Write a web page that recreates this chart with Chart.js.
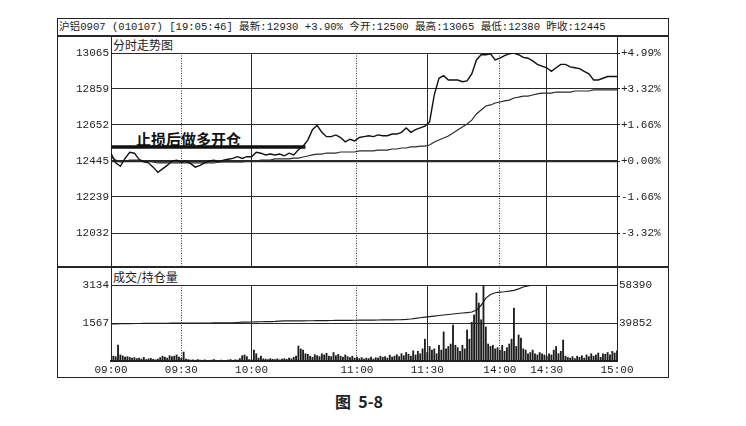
<!DOCTYPE html>
<html>
<head>
<meta charset="utf-8">
<script src="https://cdn.jsdelivr.net/npm/chart.js@4.4.0/dist/chart.umd.min.js"></script>
<style>
html,body{margin:0;padding:0;background:#fff;}
body{width:746px;height:426px;position:relative;overflow:hidden;color:#1c1c1c;font-family:"Liberation Mono","Noto Sans CJK SC",monospace;}
.ab{position:absolute;white-space:nowrap;}
.ln{position:absolute;background:#262626;}
canvas{position:absolute;}
</style>
</head>
<body>
<div class="ab" style="left:57px;top:18px;width:612px;height:360px;border:1.5px solid #222;box-sizing:border-box;"></div>
<div class="ln" style="left:57px;top:35px;width:612px;height:1.5px;"></div>
<div class="ln" style="left:110.5px;top:36px;width:1px;height:325px;"></div>
<div class="ln" style="left:616.5px;top:36px;width:1px;height:325px;"></div>
<div class="ln" style="left:57px;top:266px;width:612px;height:2px;"></div>

<div class="ab" id="hdr" style="left:59px;top:19px;height:16px;line-height:16px;font-size:10.6px;"></div>
<div class="ab" id="t1" style="left:113px;top:37px;font-size:12px;line-height:15px;font-family:'Noto Sans CJK SC';"></div>
<div class="ab" id="t2" style="left:113px;top:269px;font-size:12px;line-height:15px;font-family:'Noto Sans CJK SC';"></div>
<div class="ab" id="note" style="left:136px;top:129px;font-size:15px;line-height:19px;font-weight:bold;font-family:'Noto Sans CJK SC';color:#111;"></div>
<div class="ab" id="cap" style="left:335px;top:391px;font-size:16px;line-height:20px;font-weight:bold;font-family:'Noto Sans CJK SC';color:#222;white-space:pre;"></div>

<canvas id="top" width="612" height="222" style="left:57px;top:45px;width:612px;height:222px;"></canvas>
<canvas id="bot" width="612" height="101" style="left:57px;top:277px;width:612px;height:101px;"></canvas>

<script>
// ---------- text ----------
const headerText = "沪铝0907 (010107) [19:05:46] 最新:12930 +3.90% 今开:12500 最高:13065 最低:12380 昨收:12445";
const panelTitle1 = "分时走势图";
const panelTitle2 = "成交/持仓量";
const noteText = "止损后做多开仓";
const captionText = "图  5-8";

// ---------- axes ----------
const timeTicks  = [0, 30, 60, 105, 135, 166, 186, 216];
const timeLabels = ['09:00','09:30','10:00','11:00','11:30','14:00','14:30','15:00'];
const timeSolid  = [true, false, true, false, true, false, true, true];
const priceTicks = [12032, 12239, 12445, 12652, 12859, 13065];
const pctLabels  = ['-3.32%','-1.66%','+0.00%','+1.66%','+3.32%','+4.99%'];
const prevClose  = 12445;
const priceMin   = 11837;
const volTicks   = [1567, 3134];
const oiTicks    = [39852, 58390];

// ---------- series (price & avg every 2 minutes) ----------
const priceVals = [
12490,12435,12415,12460,12495,12490,12455,12440,12435,12410,
12380,12400,12420,12445,12450,12440,12445,12430,12410,12420,
12435,12445,12450,12440,12450,12455,12460,12470,12460,12470,
12470,12495,12490,12480,12485,12480,12485,12475,12490,12480,
12510,12530,12565,12625,12650,12610,12585,12585,12595,12580,
12555,12570,12560,12580,12585,12590,12585,12595,12590,12590,
12600,12600,12610,12635,12610,12625,12635,12645,12670,12825,
12920,12935,12910,12910,12910,12900,12905,12945,13025,13055,
13055,13060,13025,13035,13050,13060,13065,13055,13040,13035,
13020,13000,12990,12980,12960,12980,13000,13000,12985,12980,
12975,12960,12945,12910,12910,12920,12930,12930,12930];

const avgVals = [
12468,12451,12440,12445,12451,12451,12451,12445,12445,12440,
12434,12434,12434,12434,12434,12434,12434,12434,12434,12434,
12434,12434,12434,12440,12440,12440,12440,12440,12440,12445,
12445,12445,12451,12451,12451,12457,12457,12457,12457,12462,
12462,12468,12474,12480,12485,12485,12491,12491,12491,12497,
12497,12497,12497,12503,12503,12503,12503,12508,12508,12508,
12514,12514,12520,12520,12526,12526,12531,12531,12537,12554,
12566,12577,12589,12606,12623,12640,12658,12680,12715,12738,
12761,12767,12778,12784,12790,12795,12807,12812,12818,12818,
12824,12830,12835,12835,12835,12841,12841,12841,12841,12847,
12847,12847,12847,12853,12853,12853,12853,12853,12853];

// note line: level of the marked position and its end (minute index)
const noteLevel = 12525;
const noteSpan  = [0, 83];

// ---------- volume (per minute) & open interest (every 2 minutes) ----------
const volVals = [
300,200,180,660,250,210,160,180,150,120,
140,100,120,80,150,60,90,110,70,50,
80,140,200,160,120,220,180,200,250,160,
120,370,80,60,40,50,30,60,40,30,
50,30,20,40,60,30,20,40,30,20,
40,60,30,50,40,100,220,250,180,60,
50,450,300,120,200,90,80,60,100,70,
60,90,50,80,100,70,120,90,150,200,
620,500,450,300,280,200,150,260,220,180,
300,250,320,200,180,350,220,270,200,160,
250,180,140,200,120,160,100,140,80,120,
100,160,80,140,120,200,150,180,120,240,
160,200,260,180,300,220,350,280,200,420,
250,400,300,500,900,350,600,450,500,300,
650,450,1200,500,600,700,1480,650,550,400,
650,500,1280,900,1600,1900,2800,2390,1700,3134,
1400,700,600,650,500,550,450,650,400,550,
700,900,2180,600,1070,950,500,450,300,350,
450,300,250,350,300,250,200,300,250,450,
600,300,400,865,200,150,120,180,100,200,
150,220,120,250,180,300,200,250,330,150,
300,280,350,250,400,330,420];

const oiVals = [
39400,39450,39480,39500,39550,39600,39620,39640,39650,39680,
39700,39720,39740,39760,39780,39800,39810,39820,39830,39840,
39850,39860,39870,39880,39890,39900,39950,40100,40250,40300,
40350,40400,40450,40500,40550,40600,40800,40850,40860,40880,
40900,40920,40940,40960,40980,41000,41030,41060,41090,41120,
41150,41170,41190,41210,41230,41260,41290,41320,41340,41370,
41400,41430,41470,41600,41800,42100,42400,42700,42950,43200,
43500,43750,44000,44240,44500,44730,44950,45200,46200,48500,
52000,53800,54600,54900,55100,55400,55800,56500,57400,58000,
58390,58380,58390,58390,58380,58390,58390,58390,58380,58390,
58390,58390,58380,58390,58390,58390,58390,58390,58390];

// ---------- page text ----------
document.getElementById('hdr').textContent = headerText;
document.getElementById('t1').textContent = panelTitle1;
document.getElementById('t2').textContent = panelTitle2;
document.getElementById('note').textContent = noteText;
document.getElementById('cap').textContent = captionText;

// ---------- helpers ----------
const STEP = 2;
const xMax = timeTicks[timeTicks.length - 1];
const dottedTicks = timeTicks.filter((t, i) => !timeSolid[i]);
const solidTicks = timeTicks;
const ink = '#222';
const monoFont = {family: "'Liberation Mono', monospace", size: 11};
const fixTicks = vals => scale => { scale.ticks = vals.map(v => ({value: v})); };
const pts = (arr, step) => arr.map((v, i) => ({x: i * step, y: v}));
const priceMax = priceTicks[priceTicks.length - 1];
const oiMin = 2 * oiTicks[0] - oiTicks[1];
const yFit = w => s => { s.width = w; s.paddingTop = 0; s.paddingBottom = 0; };

function xAxes(showLabels) {
  return {
    x: {
      type: 'linear', position: 'bottom', min: 0, max: xMax, offset: false,
      afterBuildTicks: fixTicks(solidTicks),
      afterFit: s => { s.height = showLabels ? 17 : 0; s.paddingLeft = 0; s.paddingRight = 0; },
      ticks: {display: showLabels, autoSkip: false, maxRotation: 0, padding: 2,
              font: monoFont, color: ink, callback: (v, i) => timeLabels[i]},
      grid: {drawTicks: false, lineWidth: 1, offset: false,
             color: c => (timeSolid[c.index] ? '#2a2a2a' : 'rgba(0,0,0,0)')},
      border: {display: showLabels, color: ink, width: 2}
    },
    xd: {
      type: 'linear', position: 'bottom', min: 0, max: xMax, offset: false,
      afterBuildTicks: fixTicks(dottedTicks),
      afterFit: s => { s.height = 0; s.paddingLeft = 0; s.paddingRight = 0; },
      ticks: {display: false},
      grid: {drawTicks: false, lineWidth: 1, color: '#333', offset: false},
      border: {display: false, dash: [1, 1.5]}
    }
  };
}

Chart.defaults.animation = false;

// ---------- price panel ----------
new Chart(document.getElementById('top'), {
  type: 'line',
  data: {
    datasets: [
      {data: pts(priceVals, STEP), borderColor: '#111', borderWidth: 1.4, pointRadius: 0, tension: 0, yAxisID: 'y'},
      {data: pts(avgVals, STEP), borderColor: '#2a2a2a', borderWidth: 1.2, pointRadius: 0, tension: 0, yAxisID: 'y'},
      {data: noteSpan.map(x => ({x: x, y: noteLevel})), borderColor: '#111', borderWidth: 3.5, pointRadius: 0, yAxisID: 'y'}
    ]
  },
  options: {
    responsive: false, devicePixelRatio: 1,
    layout: {padding: {top: 8, bottom: 0, left: 0, right: 0}},
    plugins: {legend: {display: false}, tooltip: {enabled: false}},
    scales: Object.assign(xAxes(false), {
      y: {
        type: 'linear', position: 'left', min: priceMin, max: priceMax,
        afterBuildTicks: fixTicks(priceTicks),
        afterFit: yFit(54),
        ticks: {font: monoFont, color: ink, padding: 2, callback: v => String(v)},
        grid: {drawTicks: false, color: '#2a2a2a',
               lineWidth: c => (c.tick && c.tick.value === prevClose ? 2.2 : 1)},
        border: {display: true, color: ink}
      },
      y2: {
        type: 'linear', position: 'right', min: priceMin, max: priceMax,
        afterBuildTicks: fixTicks(priceTicks),
        afterFit: yFit(52),
        ticks: {font: monoFont, color: ink, padding: 1, callback: (v, i) => pctLabels[i]},
        grid: {drawOnChartArea: false, drawTicks: true, tickLength: 3, tickColor: ink},
        border: {display: true, color: ink}
      }
    })
  }
});

// ---------- volume / open interest panel ----------
new Chart(document.getElementById('bot'), {
  data: {
    datasets: [
      {type: 'bar', data: pts(volVals, 1), backgroundColor: '#1e1e1e', barThickness: 1.2, yAxisID: 'yv', xAxisID: 'x'},
      {type: 'line', data: pts(oiVals, STEP), borderColor: '#1e1e1e', borderWidth: 1.2, pointRadius: 0, tension: 0, yAxisID: 'yo', xAxisID: 'x'}
    ]
  },
  options: {
    responsive: false, devicePixelRatio: 1,
    layout: {padding: {top: 8, bottom: 0, left: 0, right: 0}},
    plugins: {legend: {display: false}, tooltip: {enabled: false}},
    scales: Object.assign(xAxes(true), {
      yv: {
        type: 'linear', position: 'left', min: 0, max: volTicks[volTicks.length - 1],
        afterBuildTicks: fixTicks(volTicks),
        afterFit: yFit(54),
        ticks: {font: monoFont, color: ink, padding: 2, callback: v => String(v)},
        grid: {drawTicks: false, color: '#2a2a2a', lineWidth: 1},
        border: {display: true, color: ink}
      },
      yo: {
        type: 'linear', position: 'right', min: oiMin, max: oiTicks[oiTicks.length - 1],
        afterBuildTicks: fixTicks(oiTicks),
        afterFit: yFit(52),
        ticks: {font: monoFont, color: ink, padding: 2, callback: v => String(v)},
        grid: {drawOnChartArea: false, drawTicks: false},
        border: {display: true, color: ink}
      }
    })
  }
});
</script>
</body>
</html>
